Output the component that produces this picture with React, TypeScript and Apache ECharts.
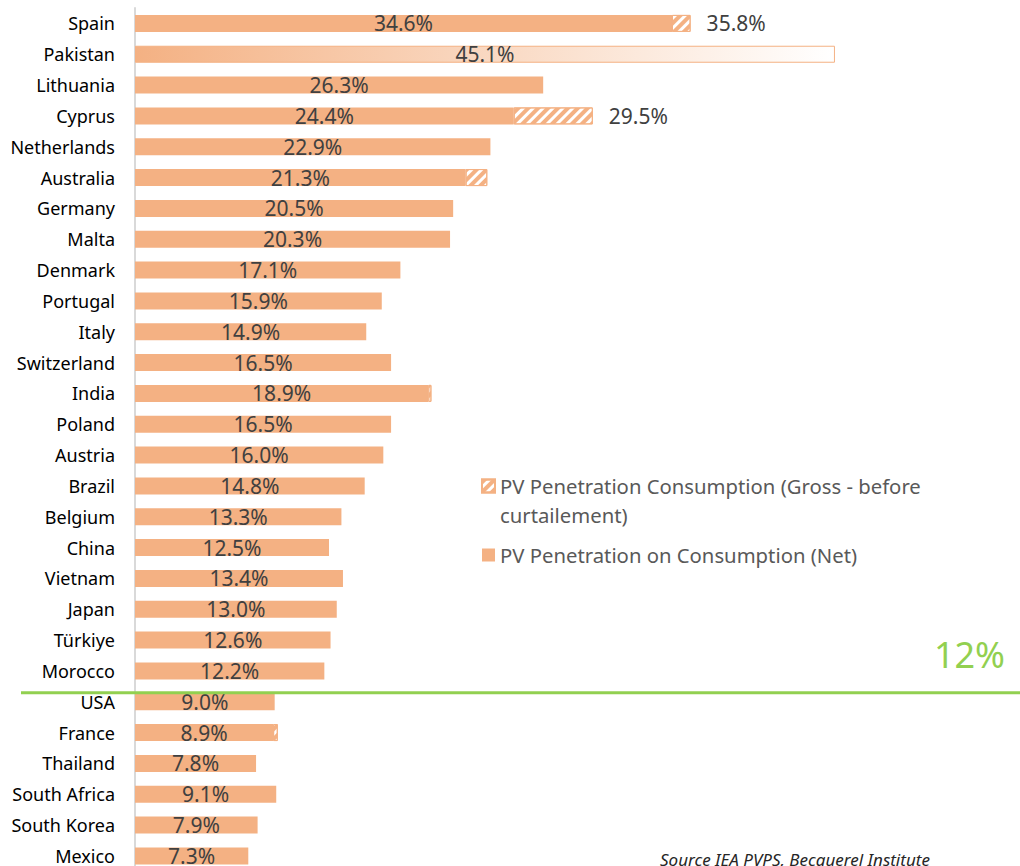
import React, { useEffect, useRef } from "react";
import * as echarts from "echarts";

const categories = [
  "Spain", "Pakistan", "Lithuania", "Cyprus", "Netherlands", "Australia", "Germany",
  "Malta", "Denmark", "Portugal", "Italy", "Switzerland", "India", "Poland", "Austria",
  "Brazil", "Belgium", "China", "Vietnam", "Japan", "Türkiye", "Morocco", "USA",
  "France", "Thailand", "South Africa", "South Korea", "Mexico",
];
const netValues = [
  34.6, 45.1, 26.3, 24.4, 22.9, 21.3, 20.5, 20.3, 17.1, 15.9, 14.9, 16.5, 18.9, 16.5,
  16.0, 14.8, 13.3, 12.5, 13.4, 13.0, 12.6, 12.2, 9.0, 8.9, 7.8, 9.1, 7.9, 7.3,
];
const grossValues: (number | null)[] = [
  35.8, null, null, 29.5, null, 22.7, null, null, null, null, null, null, 19.1, null,
  null, null, null, null, null, null, null, null, null, 9.2, null, null, null, null,
];
const grossLabelled = ["Spain", "Cyprus"];
const estimatedCountry = "Pakistan";
const thresholdLabel = "12%";
const thresholdAfter = "Morocco";
const sourceText = "Source IEA PVPS, Becquerel Institute";
const netName = "PV Penetration on Consumption (Net)";
const grossName = "PV Penetration Consumption (Gross - before curtailement)";

const ORANGE = "#F4B183";
const FONT = "'Noto Sans', sans-serif";

export default function App() {
  const ref = useRef<HTMLDivElement>(null);
  useEffect(() => {
    if (!ref.current) return;
    const chart = echarts.init(ref.current, undefined, { renderer: "svg" });
    const netData = netValues.map((v, i) =>
      categories[i] === estimatedCountry
        ? {
            value: v,
            itemStyle: {
              color: {
                type: "linear", x: 0, y: 0, x2: 1, y2: 0,
                colorStops: [
                  { offset: 0, color: ORANGE },
                  { offset: 1, color: "#ffffff" },
                ],
              },
              borderColor: ORANGE,
              borderWidth: 1,
            },
          }
        : { value: v }
    );
    const grossData = grossValues.map((g, i) =>
      g == null
        ? { value: null }
        : {
            value: g - netValues[i],
            label: { show: grossLabelled.includes(categories[i]) },
          }
    );
    chart.setOption({
      animation: false,
      textStyle: { fontFamily: FONT },
      grid: {
        left: 135,
        top: 8,
        width: 776,
        height: 863.3,
        outerBoundsMode: "none",
      },
      xAxis: {
        type: "value",
        min: 0,
        max: 50,
        show: false,
        splitLine: { show: false },
      },
      yAxis: {
        type: "category",
        data: categories,
        inverse: true,
        axisLine: { lineStyle: { color: "#D9D9D9", width: 2 } },
        axisTick: { show: false },
        axisLabel: { fontSize: 18, lineHeight: 18, color: "#000", margin: 20, fontFamily: FONT },
      },
      legend: {
        orient: "vertical",
        left: 481,
        top: 442.5,
        padding: 0,
        itemWidth: 13,
        itemHeight: 13,
        itemGap: 11,
        icon: "rect",
        formatter: (name: string) =>
          name === grossName ? "\n" + name.replace("before ", "before\n") : name,
        textStyle: { fontSize: 20.3, color: "#595959", lineHeight: 29, fontFamily: FONT },
        data: [{ name: grossName }, { name: netName }],
      },
      series: [
        {
          name: netName,
          type: "bar",
          stack: "pv",
          barWidth: 17,
          data: netData,
          itemStyle: { color: ORANGE },
          label: {
            show: true,
            position: "inside",
            fontSize: 21,
            lineHeight: 20,
            color: "#404040",
            fontFamily: FONT,
            formatter: (p: any) => `${Number(p.value).toFixed(1)}%`,
          },
        },
        {
          name: grossName,
          type: "bar",
          stack: "pv",
          barWidth: 17,
          data: grossData,
          itemStyle: {
            color: "#ffffff",
            borderColor: ORANGE,
            borderWidth: 1,
            decal: {
              symbol: "rect",
              color: ORANGE,
              dashArrayX: [1, 0],
              dashArrayY: [4, 3],
              rotation: -Math.PI / 4,
            },
          },
          label: {
            show: false,
            position: "right",
            distance: 16,
            fontSize: 21,
            lineHeight: 20,
            color: "#404040",
            fontFamily: FONT,
            formatter: (p: any) => {
              const g = grossValues[p.dataIndex];
              return g == null ? "" : `${g.toFixed(1)}%`;
            },
          },
        },
      ],
    });

    const idx = categories.indexOf(thresholdAfter);
    const y1 = chart.convertToPixel({ yAxisIndex: 0 }, categories[idx]) as number;
    const y2 = chart.convertToPixel({ yAxisIndex: 0 }, categories[idx + 1]) as number;
    const lineY = y1 + (y2 - y1) * 0.71;
    chart.setOption({
      graphic: [
        {
          type: "line",
          shape: { x1: 21, y1: lineY, x2: 1020, y2: lineY },
          style: { stroke: "#92D050", lineWidth: 3 },
          z: 10,
        },
        {
          type: "text",
          right: 15,
          top: lineY - 56,
          style: {
            text: thresholdLabel,
            fill: "#92D050",
            fontSize: 36,
            fontFamily: FONT,
          },
        },
        {
          type: "text",
          left: 660,
          top: 851,
          style: {
            text: sourceText,
            fill: "#262626",
            fontSize: 17,
            fontStyle: "italic",
            fontFamily: FONT,
          },
        },
      ],
    });
    return () => chart.dispose();
  }, []);
  return (
    <div
      ref={ref}
      style={{ position: "absolute", left: 0, top: 0, width: 1020, height: 866, background: "#fff" }}
    />
  );
}
